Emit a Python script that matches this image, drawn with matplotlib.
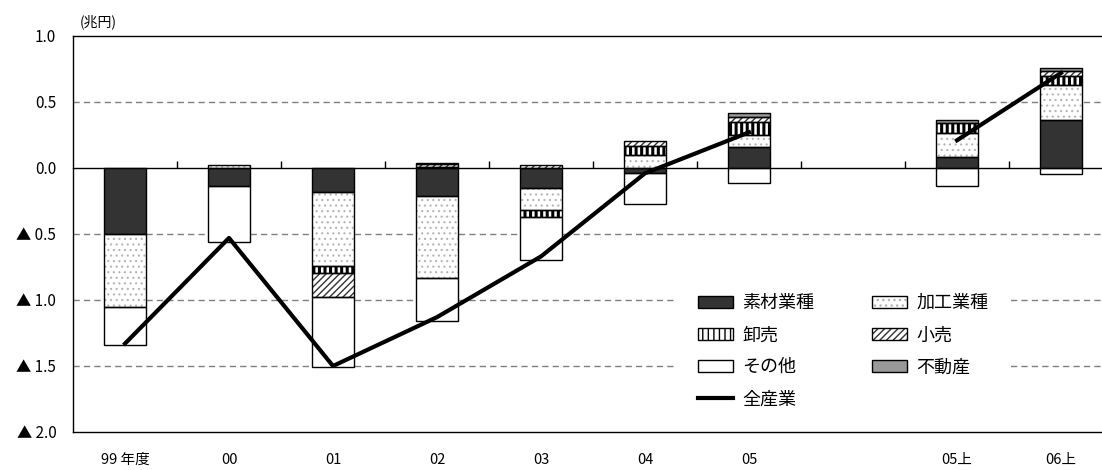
import numpy as np
import matplotlib
matplotlib.use("Agg")
from matplotlib import pyplot as plt
from matplotlib.patches import Patch
from matplotlib.lines import Line2D
from matplotlib.legend_handler import HandlerTuple

plt.rcParams['font.family'] = ['Noto Sans CJK JP', 'DejaVu Sans']
plt.rcParams['hatch.linewidth'] = 1.0

# data (兆円), one slot left blank between 05 and 05上
categories = ['99 年度', '00', '01', '02', '03', '04', '05', '', '05上', '06上']
sozai = [-0.50, -0.14, -0.18, -0.21, -0.15, -0.04, 0.16, 0.0, 0.08, 0.36]
kakou = [-0.55, 0.02, -0.56, -0.62, -0.17, 0.10, 0.09, 0.0, 0.185, 0.27]
oroshi = [0.0, 0.0, -0.055, 0.01, -0.05, 0.065, 0.10, 0.0, 0.075, 0.07]
kouri = [0.0, 0.0, -0.185, 0.02, 0.025, 0.04, 0.04, 0.0, 0.0, 0.035]
fudousan = [0.0, 0.0, 0.0, 0.01, 0.0, 0.0, 0.03, 0.0, 0.02, 0.025]
sonota = [-0.29, -0.42, -0.53, -0.33, -0.33, -0.23, -0.11, 0.0, -0.14, -0.045]
zensangyo = [-1.33, -0.53, -1.50, -1.13, -0.67, -0.04, 0.27, np.nan, 0.21, 0.72]

yticks = [1.0, 0.5, 0.0, -0.5, -1.0, -1.5, -2.0]
yticklabels = ['1.0', '0.5', '0.0', '▲ 0.5', '▲ 1.0', '▲ 1.5', '▲ 2.0']

# (label, values, face, hatch, hatch colour, hatch width)
series = [
    ('素材業種', sozai, '#333333', None, '#333333', 1.0),
    ('加工業種', kakou, 'white', '...', '#b4b4b4', 0.8),
    ('卸売', oroshi, 'white', '|||', 'black', 2.2),
    ('小売', kouri, 'white', '/////', '#333333', 1.0),
    ('不動産', fudousan, '#999999', None, '#999999', 1.0),
    ('その他', sonota, 'white', None, 'white', 1.0),
]


def set_hatch_lw(patches, lw):
    for p in patches:
        if hasattr(p, 'set_hatch_linewidth'):
            p.set_hatch_linewidth(lw)


fig = plt.figure(figsize=(11.02, 4.70), dpi=100)
ax = fig.add_axes([73 / 1102, 38 / 470, 1040 / 1102, 396 / 470])

x = np.arange(len(categories))
width = 0.41
pos_base = np.zeros(len(x))
neg_base = np.zeros(len(x))
handles = {}
for label, vals, face, hatch, hcol, hlw in series:
    v = np.array(vals, dtype=float)
    bottom = np.where(v >= 0, pos_base, neg_base)
    m = v != 0
    bars = ax.bar(x[m], v[m], width, bottom=bottom[m], color=face, hatch=hatch,
                  edgecolor=hcol, linewidth=0, zorder=2)
    set_hatch_lw(bars, hlw)
    ax.bar(x[m], v[m], width, bottom=bottom[m], facecolor='none',
           edgecolor='black', linewidth=1.0, zorder=3)
    pos_base += np.where(v > 0, v, 0)
    neg_base += np.where(v < 0, v, 0)
    fill = Patch(facecolor=face, hatch=hatch, edgecolor=hcol, linewidth=0)
    set_hatch_lw([fill], hlw)
    handles[label] = (fill, Patch(facecolor='none', edgecolor='black', linewidth=1.0))

ax.plot(x, zensangyo, color='black', linewidth=3.0, zorder=5)

ax.set_xlim(-0.5, len(x) - 0.5)
ax.set_ylim(-2.0, 1.0)
ax.set_yticks(yticks)
ax.set_yticklabels(yticklabels, fontsize=11)
ax.tick_params(axis='y', length=0, pad=12)
ax.set_xticks(x)
ax.set_xticklabels(categories, fontsize=10.5)
ax.tick_params(axis='x', length=0, pad=15)

for yv in [0.5, -0.5, -1.0, -1.5]:
    ax.axhline(yv, color='#7f7f7f', linewidth=1.0, linestyle=(0, (4.5, 3)), zorder=1)

for s in ax.spines.values():
    s.set_color('black')
    s.set_linewidth(1.0)

# zero line with tick marks between categories
zero_loc = (0 - (-2.0)) / (1.0 - (-2.0))
sec = ax.secondary_xaxis(zero_loc)
sec.set_xticks(x[:-1] + 0.5)
sec.tick_params(direction='out', length=5, width=1, labeltop=False, labelbottom=False)
sec.spines['top'].set_linewidth(1.0)
sec.spines['bottom'].set_linewidth(1.0)

fig.text(80 / 1102, 448 / 470, '(兆円)', fontsize=10, va='center', ha='left')

order = ['素材業種', '卸売', 'その他', None, '加工業種', '小売', '不動産']
leg_handles = []
leg_labels = []
for k in order:
    if k is None:
        leg_handles.append(Line2D([], [], color='black', linewidth=3.0))
        leg_labels.append('全産業')
    else:
        leg_handles.append(handles[k])
        leg_labels.append(k)
leg = ax.legend(leg_handles, leg_labels, ncol=2, loc='upper left',
                bbox_to_anchor=(675 / 1102, (470 - 271) / 470),
                bbox_transform=fig.transFigure, borderaxespad=0,
                borderpad=1.28, handlelength=1.95, handleheight=0.67,
                handletextpad=0.5, columnspacing=3.2, labelspacing=0.78,
                fontsize=13, frameon=True, fancybox=False,
                facecolor='white', edgecolor='none', framealpha=1.0,
                handler_map={tuple: HandlerTuple(ndivide=1)})
leg.set_zorder(4)

fig.savefig('out.png', dpi=100)
